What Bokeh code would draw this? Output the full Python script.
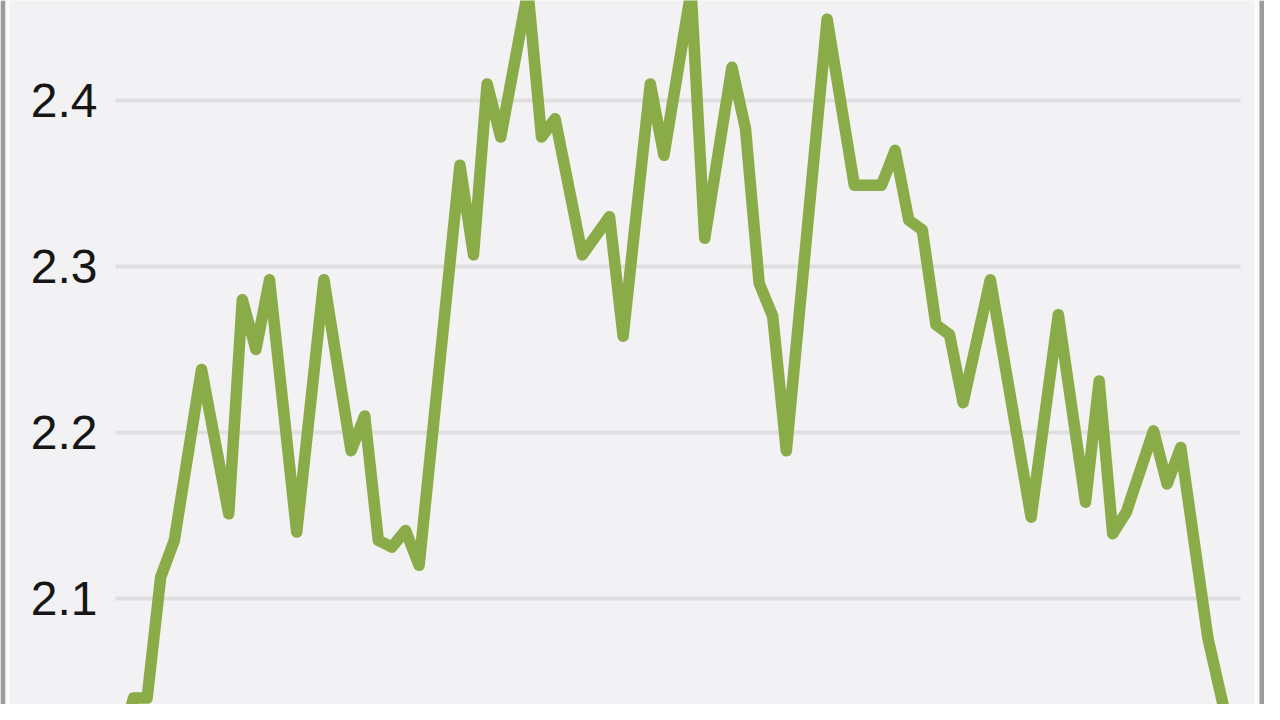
from bokeh.plotting import figure
from bokeh.models import Range1d
from bokeh.embed import file_html
from bokeh.resources import INLINE
from bokeh.core.properties import value

# ---- data ----
period = [-1, 0, 1, 2, 3, 5, 7, 8, 9, 10, 12, 14, 16, 17, 18, 19, 20, 21,
          24, 25, 26, 27, 29, 30, 31, 33, 35, 36, 38, 39, 41, 42, 44, 45, 46,
          47, 48, 51, 53, 55, 56, 57, 58, 59, 60, 61, 63, 66, 68, 70, 71, 72,
          73, 75, 76, 77, 79, 80, 81]
level = [2.010, 2.040, 2.040, 2.113, 2.135, 2.238, 2.151, 2.280, 2.250, 2.292,
         2.140, 2.292, 2.189, 2.210, 2.135, 2.131, 2.141, 2.120,
         2.361, 2.307, 2.410, 2.378, 2.466, 2.378, 2.389, 2.307, 2.330, 2.258,
         2.410, 2.367, 2.466, 2.317, 2.420, 2.383, 2.290, 2.270, 2.189,
         2.449, 2.349, 2.349, 2.370, 2.328, 2.322, 2.265, 2.259, 2.218,
         2.292, 2.149, 2.271, 2.158, 2.231, 2.139, 2.152, 2.201, 2.169, 2.191,
         2.076, 2.040, 2.005]
tick_values = [2.1, 2.2, 2.3, 2.4]
tick_labels = ["2.1", "2.2", "2.3", "2.4"]

# ---- layout ----
W, H = 1264, 704
X0, X1 = -9.78, 83.16
Y0, Y1 = 2.03614, 2.46024
PXX = (X1 - X0) / W  # data units per pixel (x)

def px(n):
    return X0 + n * PXX

p = figure(width=W, height=H, output_backend="svg", toolbar_location=None,
           x_range=Range1d(X0, X1), y_range=Range1d(Y0, Y1),
           background_fill_color="#f2f2f4", border_fill_color="#f2f2f4",
           min_border=0, outline_line_color=None)
p.axis.visible = False
p.grid.visible = False

# side borders
p.quad(left=[px(0)], right=[px(5)], bottom=[Y0], top=[Y1], fill_color="#9c9c9c", line_color=None)
p.quad(left=[px(5)], right=[px(9)], bottom=[Y0], top=[Y1], fill_color="#fbfbfc", line_color=None)
p.quad(left=[px(W - 10)], right=[px(W - 5)], bottom=[Y0], top=[Y1], fill_color="#fbfbfc", line_color=None)
p.quad(left=[px(W - 5)], right=[px(W)], bottom=[Y0], top=[Y1], fill_color="#9c9c9c", line_color=None)

# gridlines
p.segment(x0=[px(115)] * len(tick_values), x1=[px(1240)] * len(tick_values),
          y0=tick_values, y1=tick_values, line_color="#dfdfe2", line_width=4)

# tick labels
p.text(x=[px(97)] * len(tick_values), y=tick_values, text=tick_labels,
       text_align="right", text_baseline="middle", text_font=value("Liberation Sans"),
       text_font_size="48px", text_color="#161616")

# series
p.line(period, level, line_color="#8aac48", line_width=11.5, line_join="round", line_cap="round")

open("out.html", "w").write(file_html(p, INLINE))
